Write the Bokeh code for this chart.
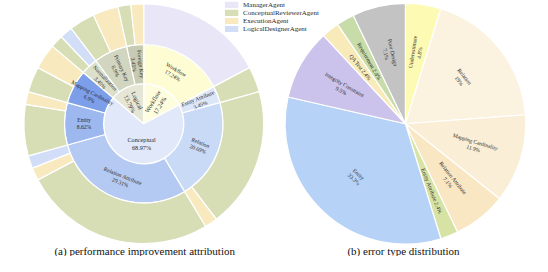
import math
from bokeh.plotting import figure
from bokeh.models import Range1d
from bokeh.embed import file_html
from bokeh.resources import INLINE
from bokeh.core.properties import value

# ---------------- data ----------------
TOTAL_A = 58
inner_names = ["Workflow", "Conceptual", "Logical"]
inner_counts = [10, 40, 8]

mid_names = ["Workflow", "Entity Attribute", "Relation", "Relation Attribute", "Entity",
             "Mapping Cardinality", "Normalization", "Primary Key", "Foreign Key"]
mid_parents = ["Workflow", "Conceptual", "Conceptual", "Conceptual", "Conceptual",
               "Conceptual", "Logical", "Logical", "Logical"]
mid_counts = [10, 2, 12, 17, 5, 4, 2, 4, 2]

outer_parents = ["Workflow", "Entity Attribute", "Relation", "Relation",
                 "Relation Attribute", "Relation Attribute", "Relation Attribute",
                 "Entity", "Entity", "Mapping Cardinality", "Mapping Cardinality",
                 "Normalization", "Normalization", "Primary Key", "Primary Key",
                 "Foreign Key", "Foreign Key"]
outer_agents = ["ManagerAgent", "ConceptualReviewerAgent", "ConceptualReviewerAgent", "ExecutionAgent",
                "ConceptualReviewerAgent", "ExecutionAgent", "LogicalDesignerAgent",
                "ConceptualReviewerAgent", "ExecutionAgent", "ConceptualReviewerAgent", "ExecutionAgent",
                "ConceptualReviewerAgent", "LogicalDesignerAgent", "ConceptualReviewerAgent", "ExecutionAgent",
                "ConceptualReviewerAgent", "ExecutionAgent"]
outer_counts = [10, 2, 11, 1, 15, 1, 1, 4, 1, 2, 2, 1, 1, 2, 2, 1, 1]

agents = ["ManagerAgent", "ConceptualReviewerAgent", "ExecutionAgent", "LogicalDesignerAgent"]

err_names = ["Underestimate", "Relation", "Mapping Cardinality", "Relation Attribute",
             "Entity Attribute", "Entity", "Integrity Constraint", "QA Test",
             "Requirement", "Poor Design"]
err_counts = [2, 8, 5, 3, 1, 14, 4, 1, 1, 3]

subtitles = ["(a) performance improvement attribution", "(b) error type distribution"]

# ---------------- styles ----------------
inner_colors = {"Workflow": "#fefddd", "Conceptual": "#e0e8fa", "Logical": "#e5e6d6"}
mid_colors = {"Workflow": "#fdfcd3", "Entity Attribute": "#dce6f9", "Relation": "#c9daf7",
              "Relation Attribute": "#b5caf3", "Entity": "#9cb8ef",
              "Mapping Cardinality": "#7d9fea", "Normalization": "#dcdfca",
              "Primary Key": "#d2d5bf", "Foreign Key": "#c8cbb3"}
agent_colors = {"ManagerAgent": "#e9e6f8", "ConceptualReviewerAgent": "#d7deb5",
                "ExecutionAgent": "#f9e9bf", "LogicalDesignerAgent": "#d2def7"}
err_colors = {"Underestimate": "#fdfbb3", "Relation": "#fbf2e0", "Mapping Cardinality": "#fbeed6",
              "Relation Attribute": "#f9e6c2", "Entity Attribute": "#d7e3a5", "Entity": "#b6d2f7",
              "Integrity Constraint": "#cbc3eb", "QA Test": "#f8ebb9", "Requirement": "#c7dca9",
              "Poor Design": "#c3c3c3"}
inner_orient = {"Workflow": "r", "Conceptual": "h", "Logical": "r"}
mid_orient = {"Workflow": "t", "Relation Attribute": "t"}
err_orient = {"Relation": "t", "Entity": "t"}
err_single_line = {"Entity Attribute", "QA Test", "Requirement"}

FONT = value("Liberation Serif")
TXT = "#2a2a2a"
CXA, CXB, CY = 137.0, 411.0, 142.0
R0, R1, R2 = 42.0, 83.0, 125.5
RB = 126.0

W, H = 532, 256
p = figure(width=W, height=H, output_backend="svg", toolbar_location=None,
           x_range=Range1d(-13.0, 544.1), y_range=Range1d(3.0, 271.06),
           min_border=0, outline_line_color=None, background_fill_color="white")
p.axis.visible = False
p.grid.visible = False


def spans(counts, total, start=90.0):
    out = []
    a = start
    for c in counts:
        d = 360.0 * c / total
        out.append((a - d, a))
        a -= d
    return out


def rad_lists(sp):
    return [math.radians(s[0]) for s in sp], [math.radians(s[1]) for s in sp]


def pct(c, total, dec):
    s = f"{100.0 * c / total:.{dec}f}".rstrip("0").rstrip(".")
    return s + "%"


def text_angle(mid, mode):
    if mode == "h":
        return 0.0
    a = mid if mode == "r" else mid - 90.0
    a = (a + 180.0) % 360.0 - 180.0
    if a > 90.0:
        a -= 180.0
    elif a <= -90.0:
        a += 180.0
    return math.radians(a)


def put_labels(cx, cy, sp, radius, labels, modes, size):
    xs, ys, angs = [], [], []
    for (a0, a1), r, m in zip(sp, radius, modes):
        mid = (a0 + a1) / 2.0
        xs.append(cx + r * math.cos(math.radians(mid)))
        ys.append(cy + r * math.sin(math.radians(mid)))
        angs.append(text_angle(mid, m))
    p.text(x=xs, y=ys, text=labels, angle=angs,
           text_font=FONT, text_font_size=size, text_align="center",
           text_baseline="middle", text_color=TXT, text_line_height=1.15)


# ---------------- chart (a) sunburst ----------------
sp_in = spans(inner_counts, TOTAL_A)
s0, s1 = rad_lists(sp_in)
p.wedge(x=CXA, y=CY, radius=R0, start_angle=s0, end_angle=s1,
        fill_color=[inner_colors[n] for n in inner_names], line_color="white", line_width=1.2)

sp_mid = spans(mid_counts, TOTAL_A)
s0, s1 = rad_lists(sp_mid)
p.annular_wedge(x=CXA, y=CY, inner_radius=R0, outer_radius=R1, start_angle=s0, end_angle=s1,
                fill_color=[mid_colors[n] for n in mid_names], line_color="white", line_width=1.2)

sp_out = spans(outer_counts, TOTAL_A)
s0, s1 = rad_lists(sp_out)
p.annular_wedge(x=CXA, y=CY, inner_radius=R1, outer_radius=R2, start_angle=s0, end_angle=s1,
                fill_color=[agent_colors[a] for a in outer_agents], line_color="white", line_width=1.2)

put_labels(CXA, CY, sp_in,
           [21.0 if n == "Conceptual" else 25.0 for n in inner_names],
           [f"{n}\n{pct(c, TOTAL_A, 2)}" for n, c in zip(inner_names, inner_counts)],
           [inner_orient[n] for n in inner_names], "6.2px")
put_labels(CXA, CY, sp_mid, [(R0 + R1) / 2.0] * len(mid_names),
           [f"{n}\n{pct(c, TOTAL_A, 2)}" for n, c in zip(mid_names, mid_counts)],
           [mid_orient.get(n, "r") for n in mid_names], "5.6px")

# ---------------- chart (b) pie ----------------
tot_b = sum(err_counts)
sp_b = spans(err_counts, tot_b)
s0, s1 = rad_lists(sp_b)
p.wedge(x=CXB, y=CY, radius=RB, start_angle=s0, end_angle=s1,
        fill_color=[err_colors[n] for n in err_names], line_color="white", line_width=1.2)
put_labels(CXB, CY, sp_b, [0.6 * RB] * len(err_names),
           [f"{n}{' ' if n in err_single_line else chr(10)}{pct(c, tot_b, 1)}"
            for n, c in zip(err_names, err_counts)],
           [err_orient.get(n, "r") for n in err_names], "5.6px")

# ---------------- legend ----------------
leg_y = [266.4 - 8.4 * i for i in range(len(agents))]
p.rect(x=[229.0] * len(agents), y=leg_y, width=14, height=6.5,
       fill_color=[agent_colors[a] for a in agents], line_color=None)
p.text(x=[241.0] * len(agents), y=leg_y, text=agents, text_font=FONT, text_font_size="7px",
       text_align="left", text_baseline="middle", text_color=TXT)

# ---------------- subtitles ----------------
p.text(x=[138.0, 409.0], y=[8.8, 8.8], text=subtitles, text_font=FONT, text_font_size="11px",
       text_align="center", text_baseline="middle", text_color="#111")

open("out.html", "w").write(file_html(p, INLINE))
